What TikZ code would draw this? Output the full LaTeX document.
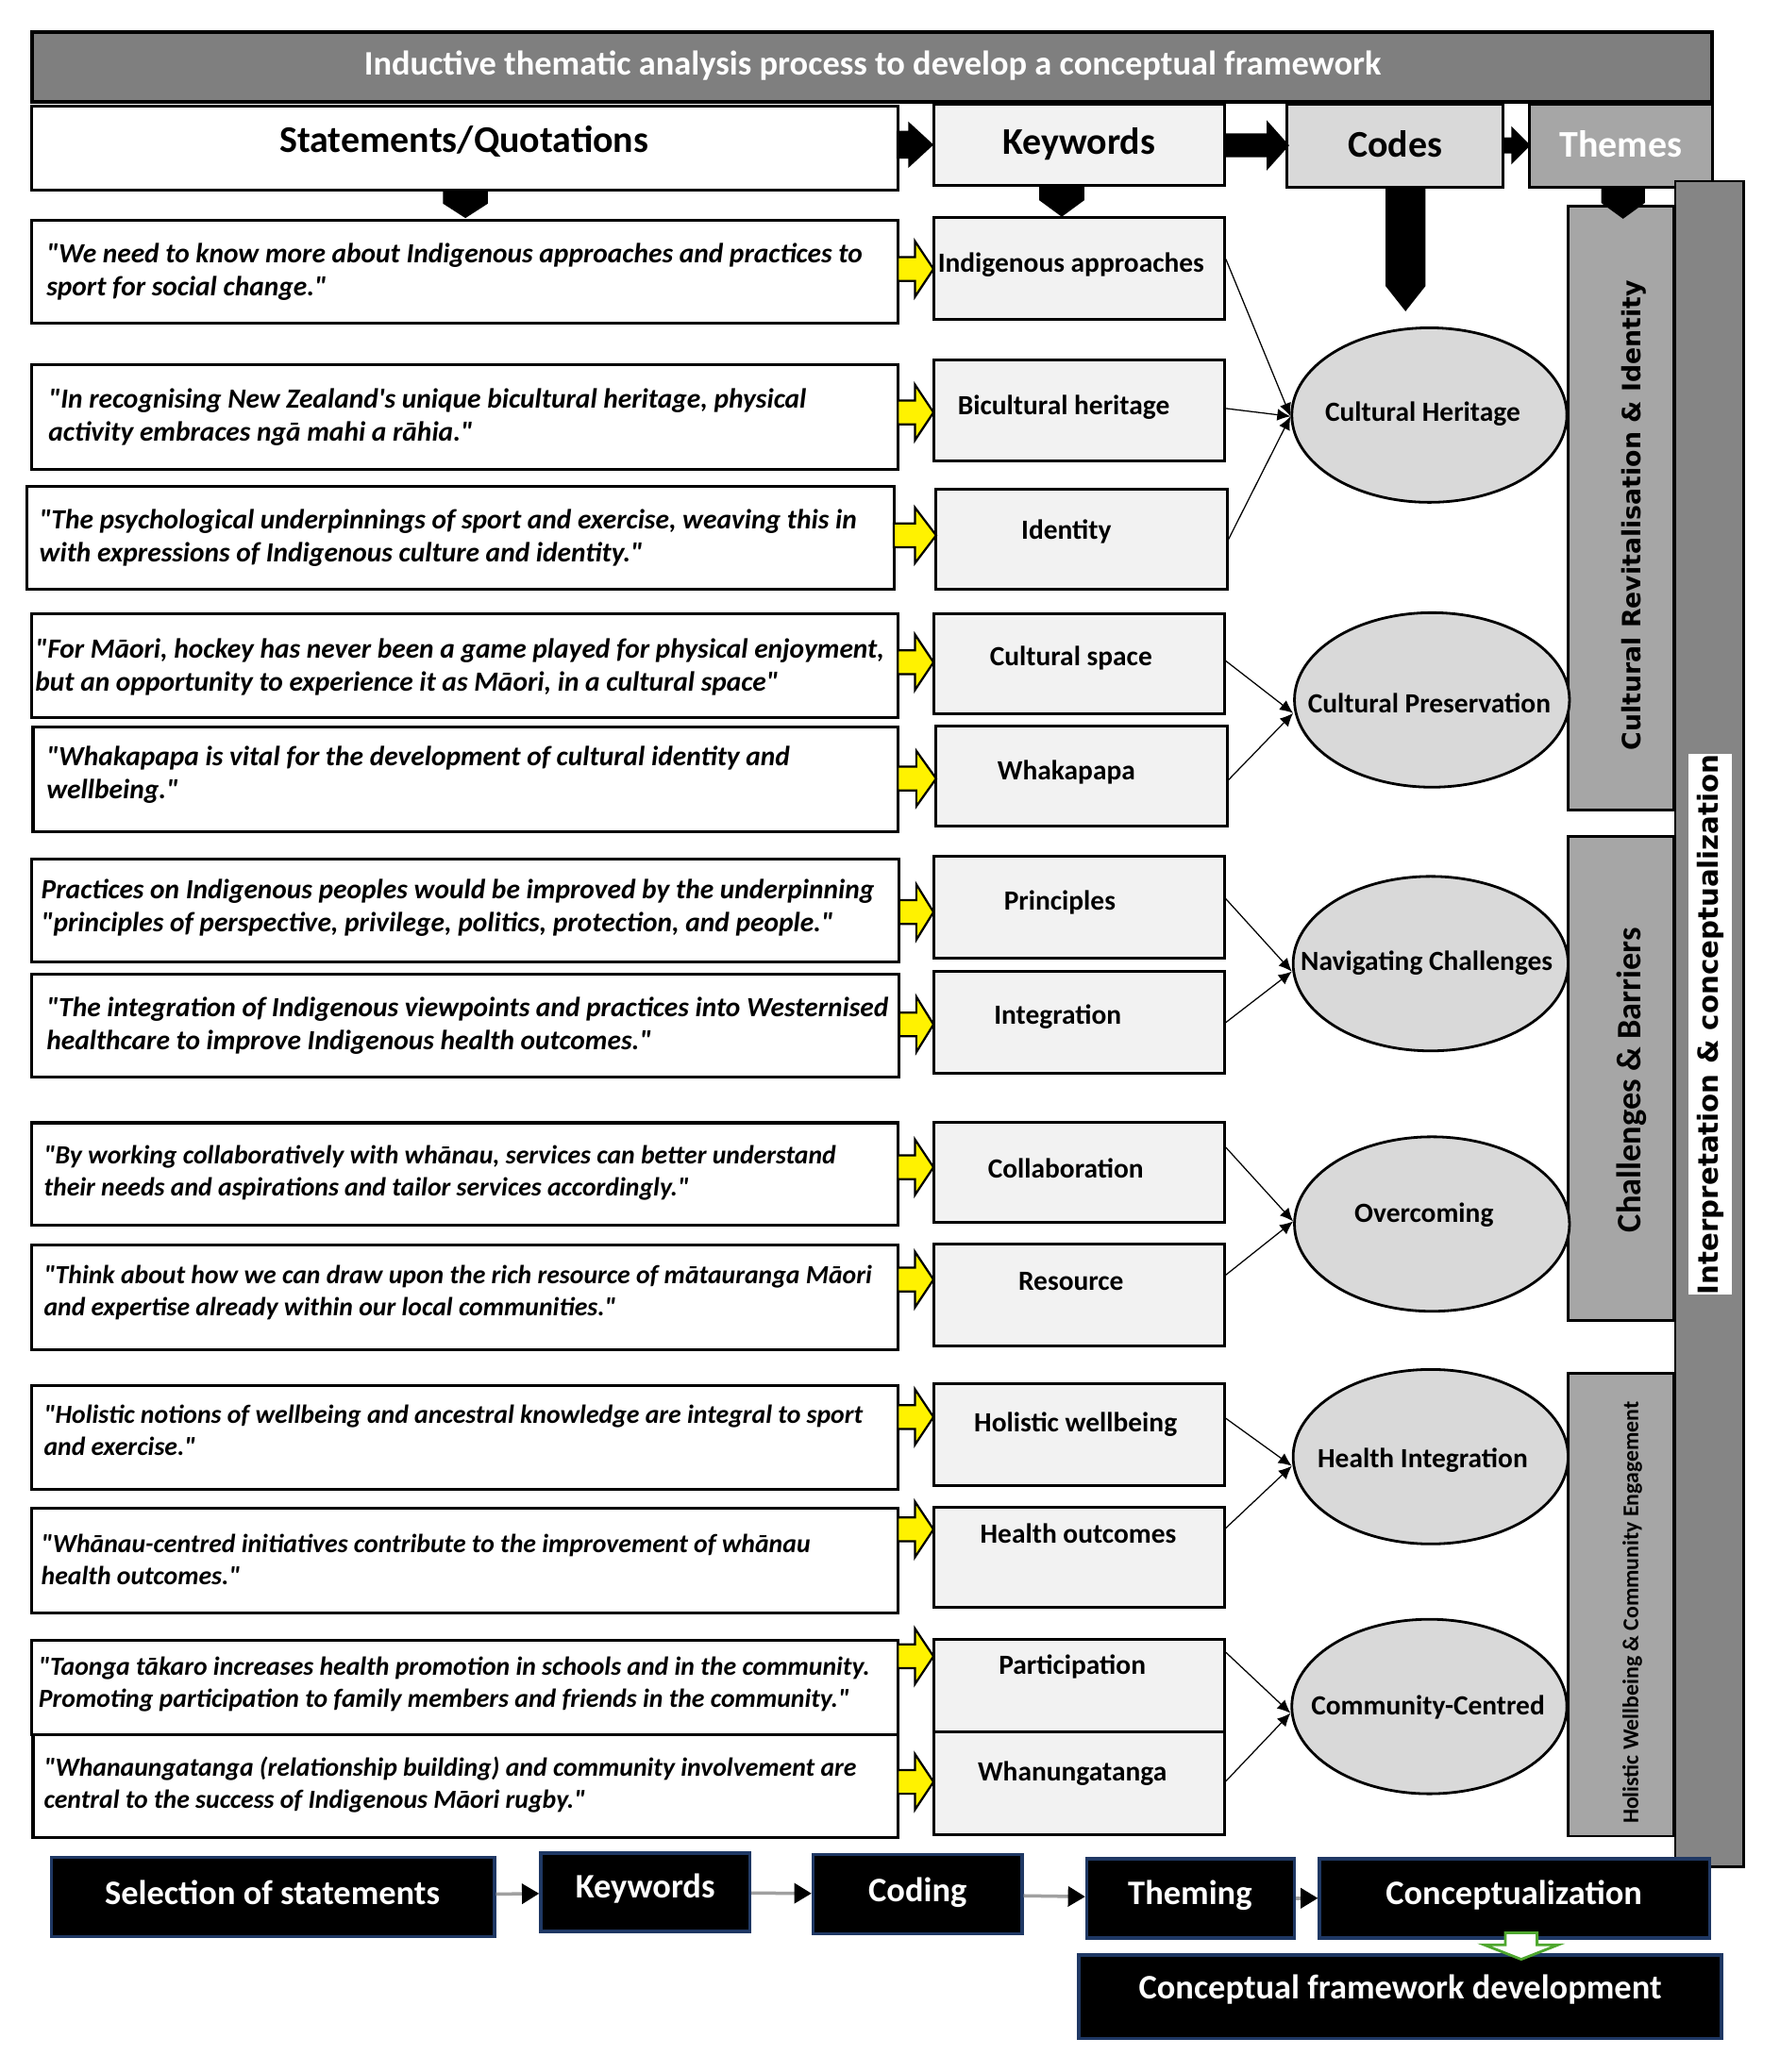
\documentclass[tikz,border=0pt]{standalone}
\usepackage{fontspec}
\setmainfont{Carlito}[Ligatures=TeXOff]
\newfontfamily\dejavu{DejaVu Sans}
\usetikzlibrary{arrows.meta,calc,fit,shapes.geometric}
\definecolor{titlegray}{HTML}{7F7F7F}
\definecolor{kwgray}{HTML}{F2F2F2}
\definecolor{codegray}{HTML}{D9D9D9}
\definecolor{themegray}{HTML}{A6A6A6}
\definecolor{interpgray}{HTML}{858585}
\definecolor{navyedge}{HTML}{1F3864}
\definecolor{arrowgreen}{HTML}{4EA72E}
\definecolor{flowgray}{HTML}{A0A0A0}

% black block arrow pointing right: tail coordinate, shaft length, total length, shaft half height, head half height
\newcommand\blockR[5]{\fill[black] ($(#1)+(0,-#4)$) -- ($(#1)+(#2,-#4)$) -- ($(#1)+(#2,-#5)$) -- ($(#1)+(#3,0)$) -- ($(#1)+(#2,#5)$) -- ($(#1)+(#2,#4)$) -- ($(#1)+(0,#4)$) -- cycle;}
% black pentagon arrow pointing down: top centre, half width, shaft length, total length
\newcommand\blockD[4]{\fill[black] ($(#1)+(-#2,0)$) -- ($(#1)+(#2,0)$) -- ($(#1)+(#2,#3)$) -- ($(#1)+(0,#4)$) -- ($(#1)+(-#2,#3)$) -- cycle;}
% yellow block arrow: tail coordinate, shaft length, total length
\newcommand\yarr[3]{\draw[yarrowstyle] ($(#1)+(0,-9)$) -- ($(#1)+(#2,-9)$) -- ($(#1)+(#2,-21)$) -- ($(#1)+(#3,0)$) -- ($(#1)+(#2,21)$) -- ($(#1)+(#2,9)$) -- ($(#1)+(0,9)$) -- cycle;}

\begin{document}
\begin{tikzpicture}[x=1pt,y=-1pt,
  boxbase/.style={draw=black, line width=2.2pt, inner sep=0pt, rectangle},
  titlebar/.style={boxbase, fill=titlegray, line width=3pt},
  titletxt/.style={text=white, font=\fontsize{26}{30}\selectfont\bfseries, inner sep=0pt},
  hdrtxt/.style={font=\fontsize{28.5}{32}\selectfont\bfseries, inner sep=0pt},
  stmtbox/.style={boxbase, fill=white},
  stxt/.style={font=\fontsize{21}{25}\selectfont\bfseries\itshape, align=left, inner sep=0pt, anchor=west},
  stxtsm/.style={stxt, font=\fontsize{19.8}{24.5}\selectfont\bfseries\itshape},
  kwbox/.style={boxbase, fill=kwgray},
  kwtxt/.style={font=\fontsize{21}{24}\selectfont\bfseries, inner sep=0pt},
  codenode/.style={ellipse, draw=black, line width=2pt, fill=codegray, minimum width=208pt, minimum height=132pt, inner sep=0pt},
  codetxt/.style={font=\fontsize{21}{24}\selectfont\bfseries, inner sep=0pt},
  link/.style={line width=0.9pt, -{Latex[length=10pt,width=9pt]}},
  themebar/.style={boxbase, fill=themegray, line width=2pt},
  yarrowstyle/.style={draw=black, line width=1.6pt, fill=yellow, line join=miter},
  darkbox/.style={draw=navyedge, line width=2.5pt, fill=black, inner sep=0pt},
  darktxt/.style={text=white, inner sep=0pt, font=\fontsize{26}{30}\selectfont\bfseries},
  flowarr/.style={draw=flowgray, line width=2.5pt, -{Triangle[length=13pt,width=15pt,color=black]}}
]
\useasboundingbox[fill=white] (0,0) rectangle (1346,1567.5);

% ---------- title ----------
\node[titlebar, fit={(24,24) (1295,77)}] (title) {};
\node[titletxt] (titletext) at (660,50) {Inductive thematic analysis process to develop a conceptual framework};

% ---------- header row ----------
\node[boxbase, fill=white, fit={(24,80) (679,144)}] (hS) {};
\node[hdrtxt] (hStxt) at (351,107) {Statements/Quotations};
\node[boxbase, fill=kwgray, fit={(706,79) (926,140.5)}] (hK) {};
\node[hdrtxt] (hKtxt) at (816,109) {Keywords};
\node[boxbase, fill=codegray, fit={(973,79) (1136.5,141.5)}] (hC) {};
\node[hdrtxt] (hCtxt) at (1055,109) {Codes};
\node[boxbase, fill=themegray, fit={(1157,79) (1295,141.5)}] (hT) {};
\node[hdrtxt, text=white] (hTtxt) at (1226,109) {Themes};

% ---------- interpretation bar ----------
\node[boxbase, fill=interpgray, line width=2pt, fit={(1267,137) (1319,1412)}] (interp) {};
\node[fill=white, rotate=90, minimum width=408pt, minimum height=33pt, inner sep=0pt,
      font=\dejavu\bfseries\fontsize{20.9}{24}\selectfont] (interptxt) at (1293.5,775) {Interpretation \& conceptualization};

% ---------- theme bars ----------
\node[themebar, fit={(1186,156) (1266,613)}] (t1) {};
\node[rotate=90, inner sep=0pt, font=\dejavu\bfseries\fontsize{19.1}{22}\selectfont] (t1txt) at (1236,390) {Cultural Revitalisation \& Identity};
\node[themebar, fit={(1186,633) (1266,999)}] (t2) {};
\node[rotate=90, inner sep=0pt, font=\fontsize{26}{30}\selectfont\bfseries] (t2txt) at (1234,817) {Challenges \& Barriers};
\node[themebar, fit={(1186,1039) (1266,1389)}] (t3) {};
\node[rotate=90, inner sep=0pt, font=\fontsize{17}{20}\selectfont\bfseries] (t3txt) at (1234.5,1220) {Holistic Wellbeing \& Community Engagement};

% ---------- statements ----------
\node[stmtbox, fit={(24,166.5) (679,244.5)}] (s1) {};
\node[stxt] (st1) at (35,205.5) {"We need to know more about Indigenous approaches and practices to\\sport for social change."};
\node[stmtbox, fit={(23.6,276) (679,355)}] (s2) {};
\node[stxt] (st2) at (36.5,315.5) {"In recognising New Zealand's unique bicultural heritage, physical\\activity embraces ngā mahi a rāhia."};
\node[stmtbox, fit={(20.5,368) (676,446)}] (s3) {};
\node[stxt] (st3) at (29.5,407) {"The psychological underpinnings of sport and exercise, weaving this in\\with expressions of Indigenous culture and identity."};
\node[stmtbox, fit={(23.7,464) (679,542.6)}] (s4) {};
\node[stxt] (st4) at (26.5,504.5) {"For Māori, hockey has never been a game played for physical enjoyment,\\but an opportunity to experience it as Māori, in a cultural space"};
\node[stmtbox, fit={(25,550) (679,629)}] (s5) {};
\node[stxt] (st5) at (35,586) {"Whakapapa is vital for the development of cultural identity and\\wellbeing."};
\node[stmtbox, fit={(24,650) (680,728)}] (s6) {};
\node[stxt] (st6) at (31,686.5) {Practices on Indigenous peoples would be improved by the underpinning\\"principles of perspective, privilege, politics, protection, and people."};
\node[stmtbox, fit={(24,737) (680,815)}] (s7) {};
\node[stxt] (st7) at (35,776) {"The integration of Indigenous viewpoints and practices into Westernised\\healthcare to improve Indigenous health outcomes."};
\node[stmtbox, fit={(23.7,849.4) (679,927)}] (s8) {};
\node[stxtsm] (st8) at (33,887.5) {"By working collaboratively with whānau, services can better understand\\their needs and aspirations and tailor services accordingly."};
\node[stmtbox, fit={(23.7,942) (679,1021)}] (s9) {};
\node[stxtsm] (st9) at (33,978) {"Think about how we can draw upon the rich resource of mātauranga Māori\\and expertise already within our local communities."};
\node[stmtbox, fit={(23.7,1048) (679,1127)}] (s10) {};
\node[stxtsm] (st10) at (33,1082) {"Holistic notions of wellbeing and ancestral knowledge are integral to sport\\and exercise."};
\node[stmtbox, fit={(23.7,1141) (679,1220)}] (s11) {};
\node[stxtsm] (st11) at (31,1180) {"Whānau-centred initiatives contribute to the improvement of whānau\\health outcomes."};
\node[stmtbox, fit={(23.7,1241) (679,1312)}] (s12) {};
\node[stxtsm] (st12) at (29,1274) {"Taonga tākaro increases health promotion in schools and in the community.\\Promoting participation to family members and friends in the community."};
\node[stmtbox, fit={(25,1312) (679,1390)}] (s13) {};
\node[stxtsm] (st13) at (33,1350) {"Whanaungatanga (relationship building) and community involvement are\\central to the success of Indigenous Māori rugby."};

% ---------- keywords ----------
\node[kwbox, fit={(706,164.5) (926,241.5)}] (k1) {};
\node[kwtxt] at (810,200) {Indigenous approaches};
\node[kwbox, fit={(706,272) (926,349)}] (k2) {};
\node[kwtxt] at (804.5,308) {Bicultural heritage};
\node[kwbox, fit={(708,370) (928,446)}] (k3) {};
\node[kwtxt] at (806.5,402) {Identity};
\node[kwbox, fit={(706,464) (926,540)}] (k4) {};
\node[kwtxt] at (810,498) {Cultural space};
\node[kwbox, fit={(708,549) (928,625)}] (k5) {};
\node[kwtxt] at (806.5,584) {Whakapapa};
\node[kwbox, fit={(706,648) (926,725)}] (k6) {};
\node[kwtxt] at (801.5,683) {Principles};
\node[kwbox, fit={(706,735) (926,812)}] (k7) {};
\node[kwtxt] at (800,769.5) {Integration};
\node[kwbox, fit={(706,849) (926,925)}] (k8) {};
\node[kwtxt] at (806,883.7) {Collaboration};
\node[kwbox, fit={(706,941) (926,1018)}] (k9) {};
\node[kwtxt] at (810,969.7) {Resource};
\node[kwbox, fit={(706,1047) (926,1124)}] (k10) {};
\node[kwtxt] at (813.5,1077.5) {Holistic wellbeing};
\node[kwbox, fit={(706,1140) (926,1216)}] (k11) {};
\node[kwtxt] at (815.5,1160) {Health outcomes};
\node[kwbox, fit={(706,1240) (926,1310)}] (k12) {};
\node[kwtxt] at (811,1261) {Participation};
\node[kwbox, fit={(706,1310) (926,1388)}] (k13) {};
\node[kwtxt] at (811,1341.6) {Whanungatanga};

% ---------- codes ----------
\node[codenode] (c1) at (1081,314) {};
\node[codetxt] at (1076,313) {Cultural Heritage};
\node[codenode] (c2) at (1083,529.5) {};
\node[codetxt] at (1081,532) {Cultural Preservation};
\node[codenode] (c3) at (1082,729) {};
\node[codetxt] at (1079,728.5) {Navigating Challenges};
\node[codenode] (c4) at (1083,926) {};
\node[codetxt] at (1077,919) {Overcoming};
\node[codenode] (c5) at (1082,1102) {};
\node[codetxt] at (1076,1105) {Health Integration};
\node[codenode] (c6) at (1081,1291) {};
\node[codetxt] at (1080,1291.5) {Community-Centred};

% ---------- keyword -> code links ----------
\draw[link] ([yshift=7pt]k1.east) -- ([yshift=-1pt]c1.west);
\draw[link] ([yshift=1.5pt]k2.east) -- ([yshift=-1pt]c1.west);
\draw[link] (k3.east) -- ([yshift=-1pt]c1.west);
\draw[link] ([yshift=2pt]k4.east) -- ([yshift=-10pt]c2.west);
\draw[link] ([yshift=-3pt]k5.east) -- ([yshift=-10pt]c2.west);
\draw[link] ([yshift=6.5pt]k6.east) -- ([yshift=-6pt]c3.west);
\draw[link] (k7.east) -- ([yshift=-6pt]c3.west);
\draw[link] ([yshift=19pt]k8.east) -- ([yshift=2pt]c4.west);
\draw[link] ([yshift=15pt]k9.east) -- ([yshift=2pt]c4.west);
\draw[link] ([yshift=12.5pt]k10.east) -- ([yshift=-7pt]c5.west);
\draw[link] ([yshift=22pt]k11.east) -- ([yshift=-7pt]c5.west);
\draw[link] ([yshift=25pt]k12.east) -- ([yshift=-5pt]c6.west);
\draw[link] ([yshift=1.5pt]k13.east) -- ([yshift=-5pt]c6.west);

% ---------- yellow statement -> keyword arrows ----------
\coordinate (y1) at (679,203.5);
\coordinate (y2) at (679,312);
\coordinate (y3) at (676,405);
\coordinate (y4) at (679,501);
\coordinate (y5) at (679,589);
\coordinate (y6) at (680,690);
\coordinate (y7) at (680,775);
\coordinate (y8) at (679,883);
\coordinate (y9) at (679,968);
\coordinate (y10) at (679,1072);
\coordinate (y11) at (679,1157);
\coordinate (y12) at (679,1253);
\coordinate (y13) at (679,1348);
\yarr{y1}{13}{27}
\yarr{y2}{13}{27}
\yarr{y3}{16}{32}
\yarr{y4}{13}{27}
\yarr{y5}{14}{29}
\yarr{y6}{13}{26}
\yarr{y7}{13}{26}
\yarr{y8}{13}{27}
\yarr{y9}{13}{27}
\yarr{y10}{13}{27}
\yarr{y11}{13}{27}
\yarr{y12}{13}{27}
\yarr{y13}{13}{27}

% ---------- header arrows ----------
\coordinate (a1) at (678,109.5);
\coordinate (a2) at (926,110);
\coordinate (a3) at (1136.5,110);
\blockR{a1}{9}{28}{10.5}{17.5}
\blockR{a2}{32}{49}{9}{19}
\blockR{a3}{6.5}{21}{6}{14.5}
\coordinate (d1) at (352,143);
\coordinate (d2) at (803,140.5);
\coordinate (d3) at (1063,141.5);
\coordinate (d4) at (1227.5,141.5);
\blockD{d1}{17}{11}{22}
\blockD{d2}{17}{11}{23.5}
\blockD{d3}{15}{75}{94}
\blockD{d4}{16.5}{12}{24}

% ---------- bottom process ----------
\node[darkbox, fit={(39,1405) (374,1465)}] (sos) {};
\node[darktxt] at (206,1432) {Selection of statements};
\node[darkbox, fit={(409,1402) (567,1461)}] (kw2) {};
\node[darktxt] at (488,1429) {Keywords};
\node[darkbox, fit={(615,1403) (773,1463)}] (cod) {};
\node[darktxt] at (694,1432) {Coding};
\node[darkbox, fit={(822,1406) (979,1466)}] (thm) {};
\node[darktxt] at (900,1434) {Theming};
\node[darkbox, fit={(998,1406) (1293,1466)}] (con) {};
\node[darktxt] at (1145,1434) {Conceptualization};
\node[darkbox, fit={(816,1479) (1302,1542)}] (cfd) {};
\node[darktxt] at (1059,1505) {Conceptual framework development};
\draw[flowarr] (sos) -- (kw2);
\draw[flowarr] (kw2) -- (cod);
\draw[flowarr] (cod) -- (thm);
\draw[flowarr] (thm) -- (con);
\coordinate (g) at ($(con.south)+(5,0)$);
\draw[draw=arrowgreen, fill=white, line width=2pt, line join=miter]
  ($(g)+(-12,-5)$) -- ($(g)+(12,-5)$) -- ($(g)+(12,4)$) -- ($(g)+(28,4)$) -- ($(g)+(0,15)$) -- ($(g)+(-28,4)$) -- ($(g)+(-12,4)$) -- cycle;
\end{tikzpicture}
\end{document}
